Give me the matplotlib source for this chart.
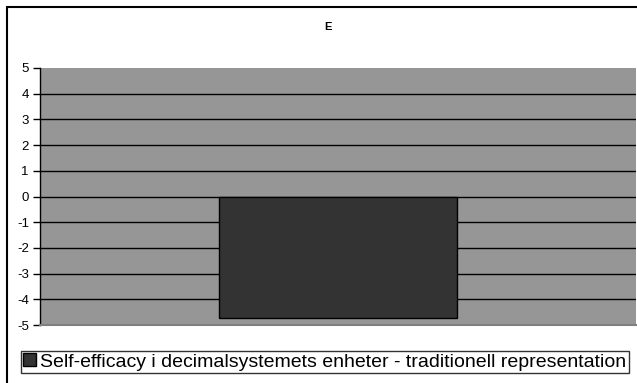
import matplotlib
matplotlib.use("Agg")
import matplotlib.pyplot as plt
from matplotlib.patches import Rectangle

plt.rcParams['font.family'] = ['Liberation Sans', 'DejaVu Sans']

title = "E"
series_name = "Self-efficacy i decimalsystemets enheter - traditionell representation"
categories = ["E"]
values = [-4.74]
y_ticks = [-5, -4, -3, -2, -1, 0, 1, 2, 3, 4, 5]

W, H = 637, 383
fig = plt.figure(figsize=(W / 100, H / 100), dpi=100)
fig.patch.set_facecolor("white")

# outer chart frame (runs off the right and bottom edges)
fig.patches.append(Rectangle((7 / W, -0.1), 1.2, 1 - 7 / H + 0.1,
                             transform=fig.transFigure, fill=False,
                             edgecolor="black", linewidth=1.5, zorder=0))

ax = fig.add_axes([40 / W, 1 - 325 / H, (636 - 40) / W, (325 - 68) / H])
ax.set_facecolor("#969696")
ax.set_xlim(-0.5, 0.5)
ax.set_ylim(-5, 5)
ax.set_yticks(y_ticks)
ax.set_yticklabels([str(t) for t in y_ticks], fontsize=9.5)
ax.set_xticks([])

for t in y_ticks[1:-1]:
    ax.axhline(t, color="black", linewidth=1.0, zorder=1)

bars = ax.bar(range(len(values)), values, width=0.4, color="#333333",
              edgecolor="black", linewidth=1.0, zorder=2, label=series_name)

for side in ("top", "right"):
    ax.spines[side].set_visible(False)
ax.spines["left"].set_color("black")
ax.spines["left"].set_linewidth(1.0)
ax.spines["bottom"].set_color("#808080")
ax.spines["bottom"].set_linewidth(1.5)
ax.tick_params(axis="y", direction="out", length=5, width=1, pad=3)

fig.text(328 / W, 1 - 27 / H, title, ha="center", va="center",
         fontsize=8, fontweight="bold")

leg = fig.legend(handles=[bars], labels=[series_name], loc="center",
                 bbox_to_anchor=(325 / W, 1 - 362 / H), fontsize=14,
                 frameon=True, fancybox=False, edgecolor="black",
                 handlelength=0.62, handleheight=0.62, handletextpad=0.25,
                 borderpad=0.12, borderaxespad=0)
leg.get_frame().set_linewidth(1.0)

fig.savefig("out.png", dpi=100)
